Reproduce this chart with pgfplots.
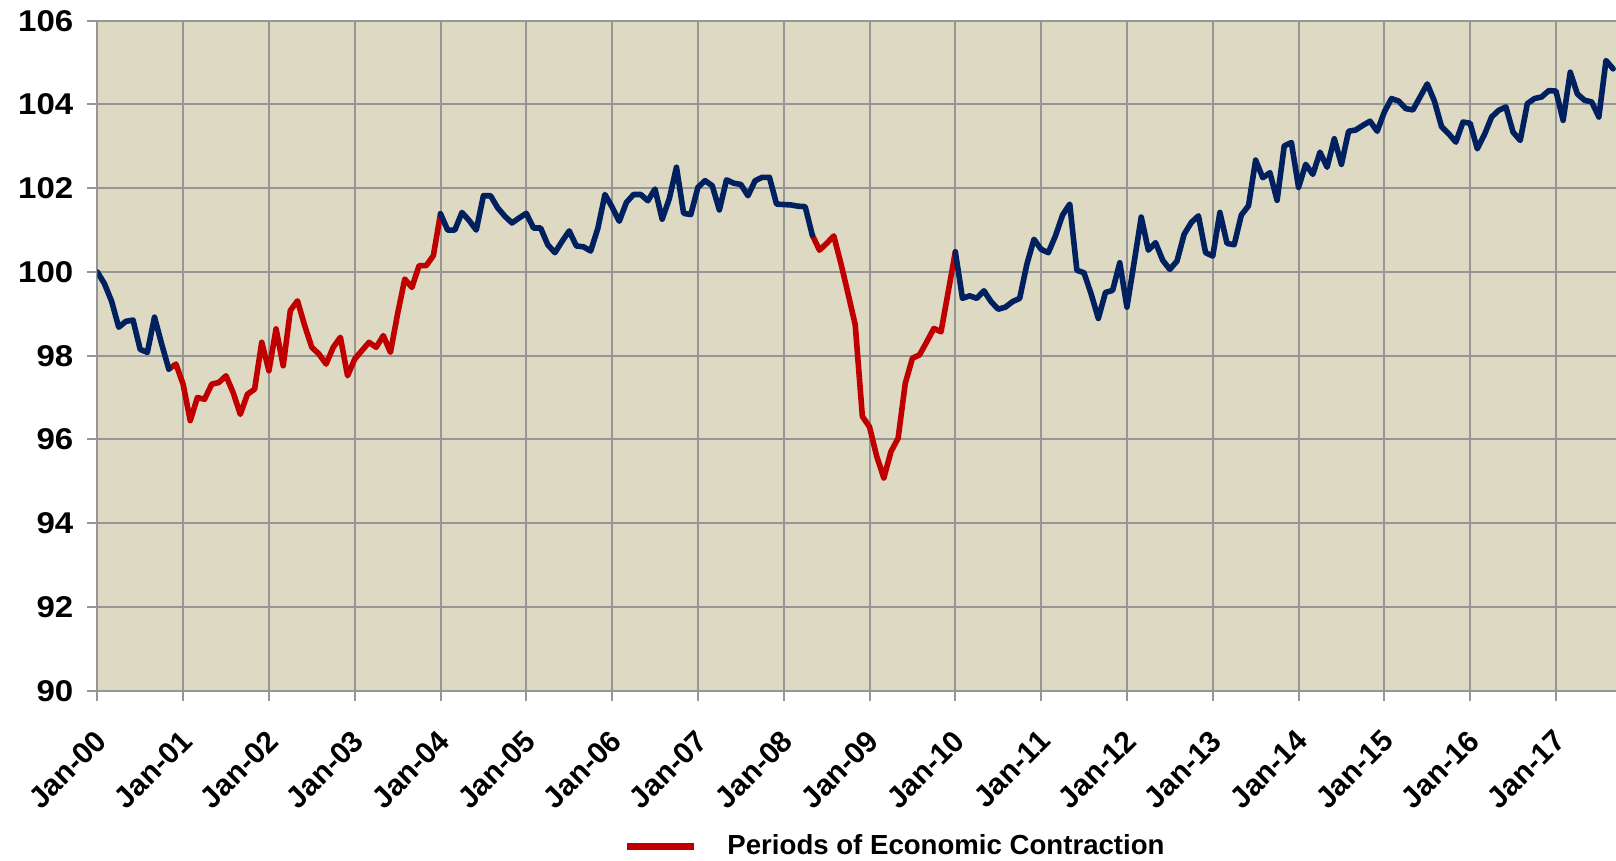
\documentclass[border=0pt]{standalone}
\usepackage{pgfplots}
\usepackage{pgfplotstable}
\pgfplotsset{compat=1.18}
\usepackage{fontspec}
\setmainfont{Liberation Sans}
\definecolor{bg}{RGB}{221,217,194}
\definecolor{navy}{RGB}{0,32,96}
\definecolor{darkred}{RGB}{192,0,0}
\definecolor{gridgray}{RGB}{150,150,150}

\pgfplotstableread{
m blue red
0 100.00 nan
1 99.72 nan
2 99.30 nan
3 98.68 nan
4 98.82 nan
5 98.85 nan
6 98.15 nan
7 98.08 nan
8 98.92 nan
9 98.28 nan
10 97.68 97.68
11 nan 97.80
12 nan 97.32
13 nan 96.45
14 nan 97.00
15 nan 96.96
16 nan 97.32
17 nan 97.36
18 nan 97.52
19 nan 97.12
20 nan 96.60
21 nan 97.08
22 nan 97.20
23 nan 98.32
24 nan 97.64
25 nan 98.64
26 nan 97.76
27 nan 99.08
28 nan 99.31
29 nan 98.72
30 nan 98.20
31 nan 98.04
32 nan 97.80
33 nan 98.20
34 nan 98.44
35 nan 97.52
36 nan 97.92
37 nan 98.12
38 nan 98.32
39 nan 98.20
40 nan 98.48
41 nan 98.08
42 nan 99.00
43 nan 99.83
44 nan 99.63
45 nan 100.15
46 nan 100.15
47 nan 100.39
48 101.39 101.39
49 101.00 nan
50 101.00 nan
51 101.42 nan
52 101.23 nan
53 101.00 nan
54 101.82 nan
55 101.82 nan
56 101.53 nan
57 101.33 nan
58 101.17 nan
59 101.29 nan
60 101.40 nan
61 101.05 nan
62 101.05 nan
63 100.65 nan
64 100.46 nan
65 100.73 nan
66 100.98 nan
67 100.62 nan
68 100.60 nan
69 100.50 nan
70 101.04 nan
71 101.85 nan
72 101.55 nan
73 101.21 nan
74 101.66 nan
75 101.85 nan
76 101.85 nan
77 101.70 nan
78 101.98 nan
79 101.26 nan
80 101.75 nan
81 102.50 nan
82 101.40 nan
83 101.37 nan
84 102.02 nan
85 102.18 nan
86 102.06 nan
87 101.48 nan
88 102.20 nan
89 102.12 nan
90 102.09 nan
91 101.82 nan
92 102.18 nan
93 102.26 nan
94 102.26 nan
95 101.62 nan
96 101.61 nan
97 101.60 nan
98 101.57 nan
99 101.56 nan
100 100.88 100.88
101 nan 100.52
102 nan 100.68
103 nan 100.86
104 nan 100.20
105 nan 99.48
106 nan 98.74
107 nan 96.55
108 nan 96.30
109 nan 95.60
110 nan 95.08
111 nan 95.71
112 nan 96.03
113 nan 97.34
114 nan 97.94
115 nan 98.02
116 nan 98.33
117 nan 98.65
118 nan 98.57
119 nan 99.52
120 100.48 100.48
121 99.37 nan
122 99.43 nan
123 99.37 nan
124 99.55 nan
125 99.29 nan
126 99.11 nan
127 99.16 nan
128 99.29 nan
129 99.37 nan
130 100.18 nan
131 100.78 nan
132 100.54 nan
133 100.46 nan
134 100.86 nan
135 101.36 nan
136 101.62 nan
137 100.04 nan
138 99.98 nan
139 99.47 nan
140 98.89 nan
141 99.51 nan
142 99.56 nan
143 100.22 nan
144 99.16 nan
145 100.22 nan
146 101.31 nan
147 100.52 nan
148 100.70 nan
149 100.28 nan
150 100.06 nan
151 100.26 nan
152 100.90 nan
153 101.18 nan
154 101.34 nan
155 100.46 nan
156 100.38 nan
157 101.42 nan
158 100.68 nan
159 100.65 nan
160 101.36 nan
161 101.58 nan
162 102.67 nan
163 102.25 nan
164 102.37 nan
165 101.71 nan
166 103.01 nan
167 103.09 nan
168 102.02 nan
169 102.57 nan
170 102.33 nan
171 102.86 nan
172 102.50 nan
173 103.18 nan
174 102.57 nan
175 103.36 nan
176 103.39 nan
177 103.50 nan
178 103.60 nan
179 103.36 nan
180 103.82 nan
181 104.14 nan
182 104.08 nan
183 103.90 nan
184 103.87 nan
185 104.18 nan
186 104.49 nan
187 104.08 nan
188 103.47 nan
189 103.30 nan
190 103.10 nan
191 103.58 nan
192 103.55 nan
193 102.94 nan
194 103.28 nan
195 103.70 nan
196 103.86 nan
197 103.94 nan
198 103.34 nan
199 103.14 nan
200 104.02 nan
201 104.14 nan
202 104.18 nan
203 104.33 nan
204 104.32 nan
205 103.62 nan
206 104.77 nan
207 104.25 nan
208 104.10 nan
209 104.06 nan
210 103.70 nan
211 105.05 nan
212 104.85 nan
}\datatable

\begin{document}
\begin{tikzpicture}
\begin{axis}[
  at={(0,0)}, anchor=south west,
  scale only axis, width=759.35pt, height=335pt,
  xmin=0, xmax=212.4, ymin=90, ymax=106,
  axis background/.style={fill=bg},
  axis x line*=bottom, axis y line*=left,
  axis line style={gridgray, line width=1pt},
  grid=major, grid style={gridgray, line width=1pt},
  xtick={0,12,...,204},
  xticklabels={Jan-00,Jan-01,Jan-02,Jan-03,Jan-04,Jan-05,Jan-06,Jan-07,Jan-08,Jan-09,Jan-10,Jan-11,Jan-12,Jan-13,Jan-14,Jan-15,Jan-16,Jan-17},
  ytick={90,92,...,106},
  tick align=outside, major tick length=5pt,
  tick style={gridgray, line width=1pt},
  /pgf/number format/assume math mode=true,
  ticklabel style={font=\bfseries\fontsize{15}{15}\selectfont},
  yticklabel style={inner sep=0pt, xshift=-6.8pt, xscale=1.1},
  xticklabel style={yshift=-17.5pt, xshift=2pt, rotate=45, anchor=east, inner sep=0pt},
  unbounded coords=jump,
  legend style={at={(0.3462,-0.232)}, anchor=west, draw=none, fill=none,
    inner sep=0pt, font=\bfseries\fontsize{13.8}{14}\selectfont},
  legend image code/.code={\draw[#1, line width=3.5pt, line cap=butt] (0pt,0pt) -- (33.5pt,0pt);},
]
\addplot[darkred, line width=2.8pt, line join=round, line cap=round] table[x=m, y=red] {\datatable};
\addlegendentry{\hspace*{13pt}Periods of Economic Contraction}
\addplot[navy, line width=2.8pt, line join=round, line cap=round, forget plot] table[x=m, y=blue] {\datatable};
\end{axis}
\pgfresetboundingbox
\useasboundingbox (-48.65pt,-85.15pt) rectangle (759.35pt,345.35pt);
\end{tikzpicture}
\end{document}
